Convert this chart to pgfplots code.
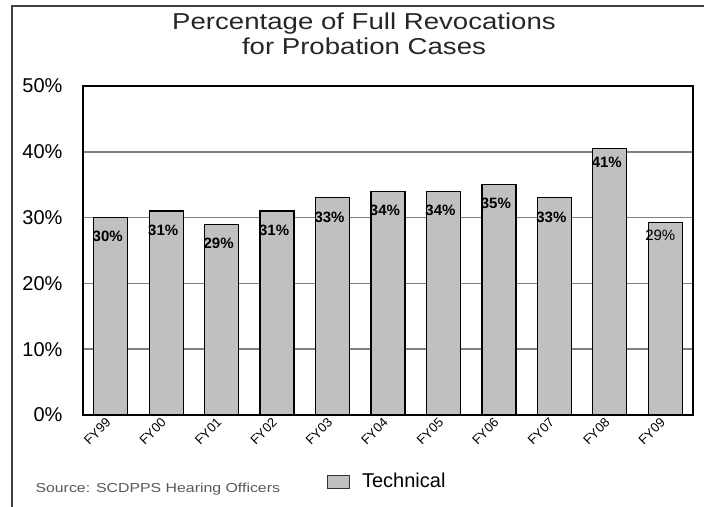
\documentclass[border=0pt]{standalone}
\usepackage{pgfplots}
\pgfplotsset{compat=1.18}
\usepackage{fontspec}
\setmainfont{Liberation Sans}
\newfontfamily\widefont[FakeStretch=1.2]{Liberation Sans}
\newfontfamily\srcfont[FakeStretch=1.22]{Liberation Sans}
\definecolor{barfill}{HTML}{C0C0C0}
\definecolor{gridc}{HTML}{808080}
\definecolor{framec}{HTML}{404040}
\begin{document}
\begin{tikzpicture}[x=1pt,y=1pt]
\useasboundingbox (0,0) rectangle (704,506);
\draw[line width=2pt, framec] (12,-2) -- (12,500) -- (706,500);
\node[anchor=base, font=\widefont\fontsize{23}{27}\selectfont, text=black!85] at (364,476) {Percentage of Full Revocations};
\node[anchor=base, font=\widefont\fontsize{23}{27}\selectfont, text=black!85] at (364,451) {for Probation Cases};
\node[anchor=base west, font=\srcfont\fontsize{13}{15}\selectfont, text=black!65] at (32,14) {Source: SCDPPS Hearing Officers};
\begin{axis}[
  at={(83pt,91pt)}, anchor=south west,
  scale only axis, width=610pt, height=329pt,
  xmin=-0.5, xmax=10.5, ymin=0, ymax=50,
  ybar, bar width=34pt,
  xtick={0,1,2,3,4,5,6,7,8,9,10},
  xticklabels={FY99,FY00,FY01,FY02,FY03,FY04,FY05,FY06,FY07,FY08,FY09},
  ytick={0,10,20,30,40,50},
  yticklabels={0\%,10\%,20\%,30\%,40\%,50\%},
  major tick length=0pt,
  ymajorgrids, grid style={gridc, line width=1.5pt},
  axis line style={black, line width=1.5pt},
  yticklabel style={font=\fontsize{20}{24}\selectfont, xshift=-17pt},
  xticklabel style={font=\fontsize{13}{15}\selectfont, yshift=-3pt, rotate=45, anchor=east},
  legend style={at={(0.4,-0.202)}, anchor=west, draw=none, fill=none, inner sep=0pt,
    font=\fontsize{20}{24}\selectfont},
  legend image code/.code={\draw[fill=barfill, draw=black!80, line width=0.9pt] (0pt,-6.5pt) rectangle (22pt,6.5pt);},
  legend cell align=left,
  nodes near coords style={font=\fontsize{15}{18}\selectfont\bfseries, anchor=center},
]
\addplot[fill=barfill, draw=black, line width=1.2pt, bar shift=0pt,
  point meta=explicit symbolic,
  nodes near coords={\pgfplotspointmeta\%},
  nodes near coords style={yshift=-19pt, xshift=-3pt}]
  table[meta=lab] {
x y lab
0 30 30
1 31 31
2 29 29
3 31 31
4 33 33
5 34 34
6 34 34
7 35 35
8 33 33
};
\addlegendentry{\hspace{10pt}Technical}
\addplot[fill=barfill, draw=black, line width=1.2pt, bar shift=0pt, forget plot,
  point meta=explicit symbolic,
  nodes near coords={\pgfplotspointmeta\%},
  nodes near coords style={yshift=-14pt, xshift=-3pt}]
  table[meta=lab] {
x y lab
9 40.5 41
};
\addplot[fill=barfill, draw=black, line width=1.2pt, bar shift=0pt, forget plot,
  point meta=explicit symbolic,
  nodes near coords={\pgfplotspointmeta\%},
  nodes near coords style={yshift=-13pt, xshift=-5pt, font=\fontsize{15}{18}\selectfont\mdseries}]
  table[meta=lab] {
x y lab
10 29.3 29
};
\end{axis}
\end{tikzpicture}
\end{document}
